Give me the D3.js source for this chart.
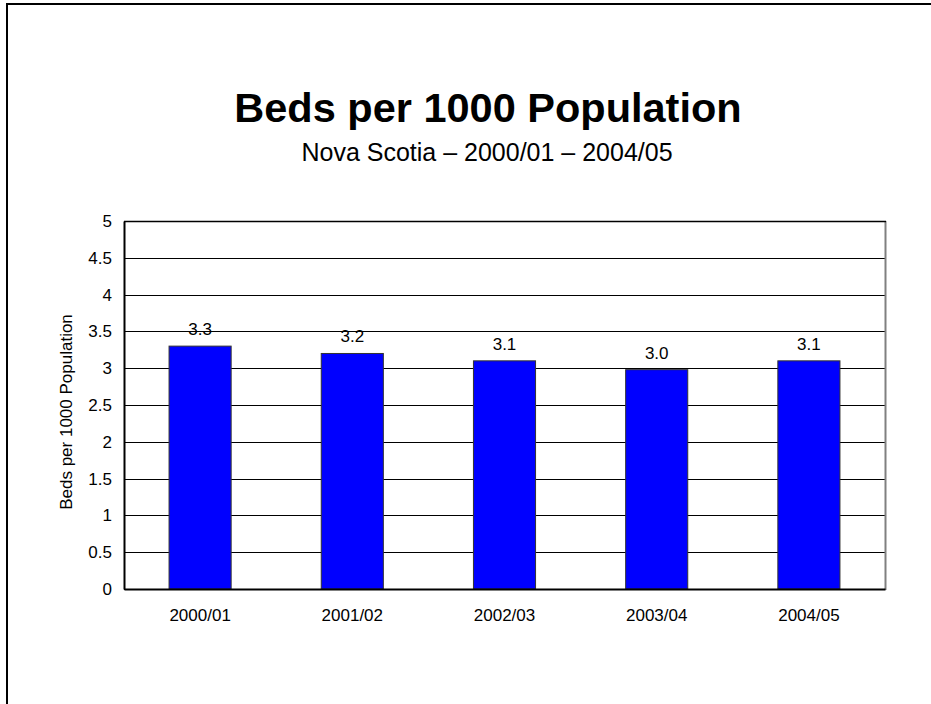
<!DOCTYPE html>
<html>
<head>
<meta charset="utf-8">
<script src="https://cdn.jsdelivr.net/npm/d3@7"></script>
<style>
  html, body { margin: 0; padding: 0; background: #fff; }
  svg { display: block; }
  text { font-family: "Liberation Sans", Arial, Helvetica, sans-serif; fill: #000; }
</style>
</head>
<body>
<svg id="chart" width="931" height="704"></svg>
<script>
const categories = ["2000/01", "2001/02", "2002/03", "2003/04", "2004/05"];
const values = [3.3, 3.2, 3.1, 2.98, 3.1];
const valueLabels = ["3.3", "3.2", "3.1", "3.0", "3.1"];
const yTicks = [0, 0.5, 1, 1.5, 2, 2.5, 3, 3.5, 4, 4.5, 5];
const titleText = "Beds per 1000 Population";
const subtitleText = "Nova Scotia \u2013 2000/01 \u2013 2004/05";
const yAxisTitle = "Beds per 1000 Population";

const svg = d3.select("#chart");

// outer frame
svg.append("rect")
  .attr("x", 7).attr("y", 4)
  .attr("width", 940).attr("height", 720)
  .attr("fill", "none").attr("stroke", "#000").attr("stroke-width", 2);

const plot = { left: 124, right: 885, top: 221, bottom: 589 };

const x = d3.scaleBand().domain(categories).range([plot.left, plot.right]).padding(0);
const y = d3.scaleLinear().domain([0, 5]).range([plot.bottom, plot.top]);

// gridlines
svg.append("g").selectAll("line")
  .data(yTicks)
  .join("line")
  .attr("x1", plot.left).attr("x2", plot.right)
  .attr("y1", d => Math.round(y(d)) + 0.5).attr("y2", d => Math.round(y(d)) + 0.5)
  .attr("stroke", "#000").attr("stroke-width", 1);

// plot border: right grey
svg.append("line")
  .attr("x1", plot.right + 0.5).attr("x2", plot.right + 0.5)
  .attr("y1", plot.top).attr("y2", plot.bottom + 1)
  .attr("stroke", "#808080").attr("stroke-width", 2);

// bars
const barFrac = 0.408;
const bw = x.bandwidth() * barFrac;
svg.append("g").selectAll("rect")
  .data(categories)
  .join("rect")
  .attr("x", (d) => x(d) + (x.bandwidth() - bw) / 2)
  .attr("y", (d, i) => y(values[i]))
  .attr("width", bw)
  .attr("height", (d, i) => y(0) - y(values[i]))
  .attr("fill", "#0000FF")
  .attr("stroke", "#333")
  .attr("stroke-width", 1);

// value labels
svg.append("g").selectAll("text")
  .data(categories)
  .join("text")
  .attr("x", d => x(d) + x.bandwidth() / 2)
  .attr("y", (d, i) => y(values[i]) - 11)
  .attr("text-anchor", "middle")
  .attr("font-size", 17)
  .text((d, i) => valueLabels[i]);

// axes
const yAxis = d3.axisLeft(y).tickValues(yTicks).tickSize(0).tickPadding(12)
  .tickFormat(d => String(d));
const gy = svg.append("g").attr("transform", `translate(${plot.left},0)`).call(yAxis);
gy.select(".domain").attr("stroke", "#000").attr("stroke-width", 2);
gy.selectAll("text").attr("font-size", 17).attr("font-family", "Liberation Sans, Arial, sans-serif").attr("fill", "#000");

const xAxis = d3.axisBottom(x).tickSize(0).tickPadding(20);
const gx = svg.append("g").attr("transform", `translate(0,${plot.bottom})`).call(xAxis);
gx.select(".domain").attr("stroke", "#000").attr("stroke-width", 2);
gx.selectAll("text").attr("font-size", 17).attr("font-family", "Liberation Sans, Arial, sans-serif").attr("fill", "#000");

// top border
svg.append("line")
  .attr("x1", plot.left).attr("x2", plot.right + 1)
  .attr("y1", plot.top + 0.5).attr("y2", plot.top + 0.5)
  .attr("stroke", "#000").attr("stroke-width", 1.5);

// titles
svg.append("text")
  .attr("x", 488).attr("y", 122)
  .attr("text-anchor", "middle")
  .attr("font-size", 41.5).attr("font-weight", "bold")
  .text(titleText);

svg.append("text")
  .attr("x", 487).attr("y", 161)
  .attr("text-anchor", "middle")
  .attr("font-size", 25)
  .text(subtitleText);

svg.append("text")
  .attr("transform", `translate(72,412) rotate(-90)`)
  .attr("text-anchor", "middle")
  .attr("font-size", 17)
  .text(yAxisTitle);
</script>
</body>
</html>
